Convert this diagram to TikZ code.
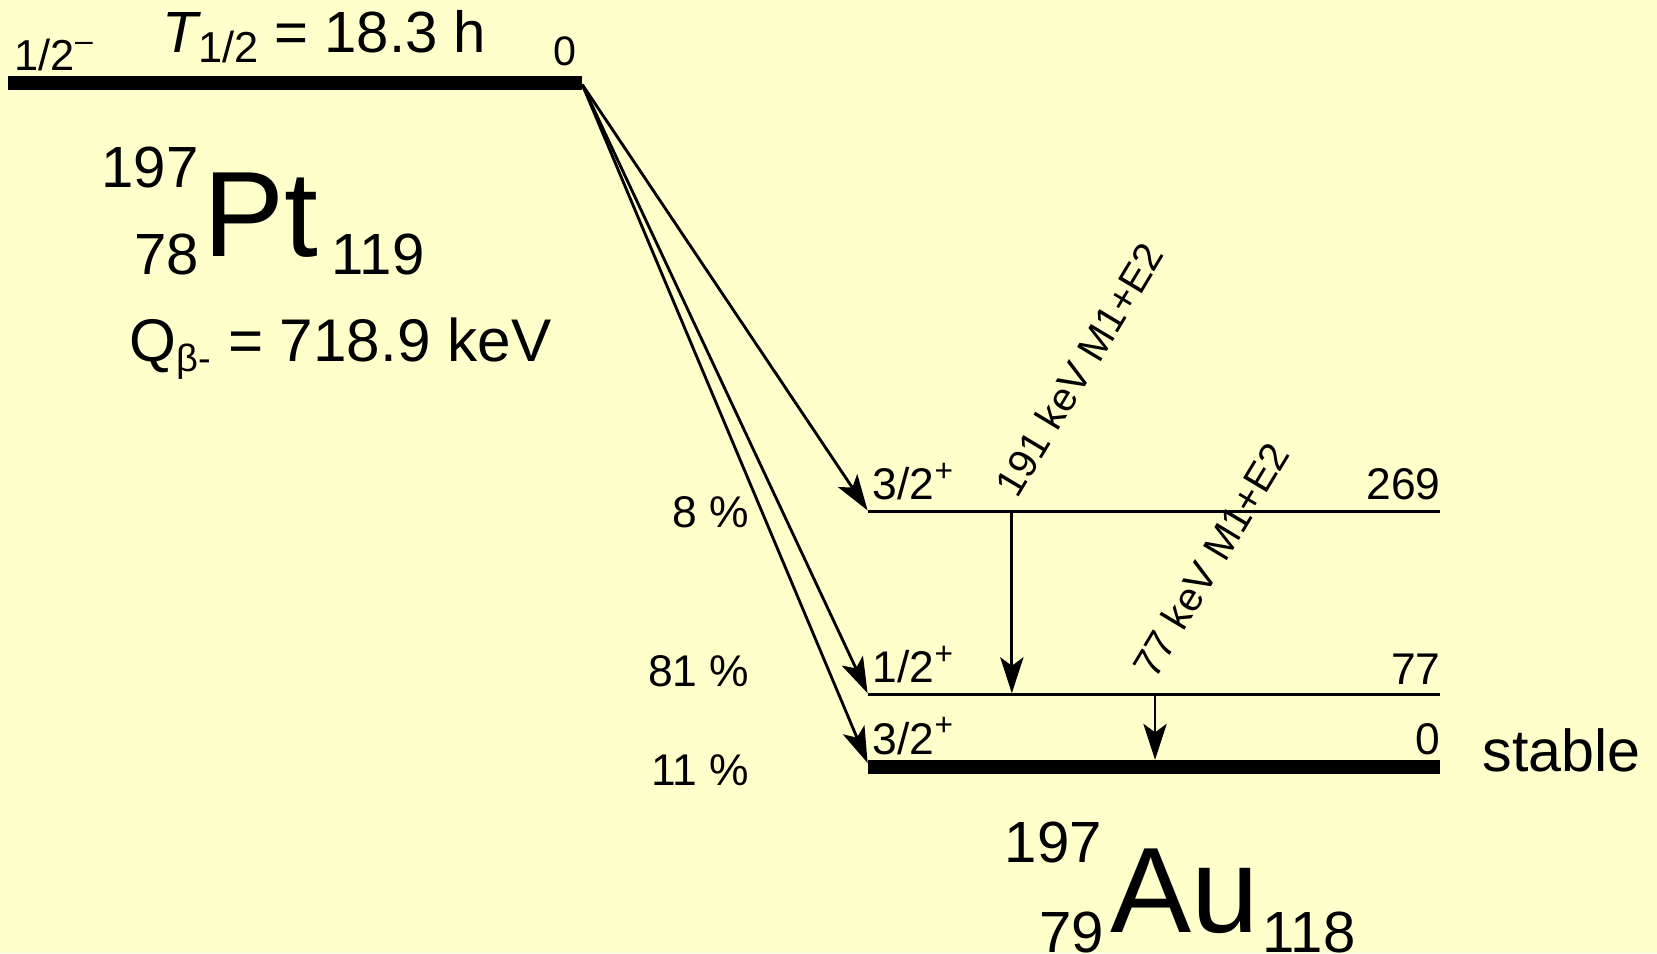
\documentclass[tikz,border=0pt]{standalone}
\usepackage{fontspec}
\setmainfont{Liberation Sans}
\usetikzlibrary{arrows.meta}
\definecolor{bg}{HTML}{FFFFCC}
\newcommand\setfs[1]{\fontsize{#1pt}{#1pt}\selectfont}
\newcommand\supp[1]{\raisebox{0.42em}{\setfs{30}#1}}
\begin{document}
\begin{tikzpicture}[x=1pt,y=-1pt,
  txt/.style={inner sep=0pt, outer sep=0pt},
  lab/.style={txt, font=\setfs{42}},
  big/.style={txt, font=\setfs{55}},
  huge/.style={txt, font=\setfs{115}},
  lvl/.style={line width=2.7pt},
  gs/.style={line width=13.5pt},
  arr/.style={line width=2.7pt, -{Stealth[length=34pt,width=22pt,inset=8pt]}},
]
\fill[bg] (0,0) rectangle (1568,902);
\useasboundingbox (0,0) rectangle (1568,902);

% parent level
\coordinate (pL) at (8,78.5);
\coordinate (pR) at (551,78.5);
\draw[gs] (pL) -- (pR);
\coordinate (bo) at (551,80);
\node[txt, anchor=base west, font=\setfs{41}] (pj) at (14,67) {1/2\raisebox{0.45em}{\setfs{30}–}};
\node[big, anchor=base west] (thalf) at (154,50) {{\itshape T}\raisebox{-9.5pt}{\setfs{41}1/2} = 18.3 h};
\node[txt, anchor=base east, font=\setfs{39}] (pe) at (545,62) {0};

% Pt label
\node[big, anchor=base west] (ptA) at (96,177) {197};
\node[huge, anchor=base west] (ptS) at (192.5,243) {Pt};
\node[big, anchor=base east] (ptZ) at (188,260) {78};
\node[big, anchor=base west] (ptN) at (314,260) {119};
\node[txt, anchor=base west, font=\setfs{57}] (qv) at (123,342) {Q\raisebox{-10pt}{\setfs{36}β-} = 718.9 keV};

% daughter levels
\coordinate (a269L) at (821,484);
\coordinate (a269R) at (1363,484);
\coordinate (a77L) at (821,657);
\coordinate (a77R) at (1363,657);
\coordinate (a0L) at (821,726);
\coordinate (a0R) at (1363,726);
\draw[lvl] (a269L) -- (a269R);
\draw[lvl] (a77L) -- (a77R);
\draw[gs] (a0L) -- (a0R);

% beta arrows
\coordinate (t269) at (821,483);
\coordinate (t77) at (821,656);
\coordinate (t0) at (821,722);
\draw[arr] (bo) -- (t269);
\draw[arr] (bo) -- (t77);
\draw[arr] (bo) -- (t0);

% gamma arrows
\coordinate (g1s) at (957.5,484);
\coordinate (g1e) at (957.5,656);
\coordinate (g2s) at (1093,657);
\coordinate (g2e) at (1093,719);
\draw[arr] (g1s) -- (g1e);
\draw[arr] (g2s) -- (g2e);
\node[txt, anchor=base west, rotate=59, font=\setfs{38}] (g1l) at (963,473) {191 keV M1+E2};
\node[txt, anchor=base west, rotate=59, font=\setfs{38}] (g2l) at (1093,644) {77 keV M1+E2};

% level labels
\node[lab, anchor=base west] (s269) at (826,473) {3/2\supp{+}};
\node[lab, anchor=base west] (s77) at (826,646) {1/2\supp{+}};
\node[lab, anchor=base west] (s0) at (826,714) {3/2\supp{+}};
\node[lab, anchor=base east] (e269) at (1363,473) {269};
\node[lab, anchor=base east] (e77) at (1363,648) {77};
\node[lab, anchor=base east] (e0) at (1363,714) {0};
\node[txt, anchor=base west, font=\setfs{56}] (stab) at (1403,730) {stable};

% branching
\node[lab, anchor=base east] (b269) at (709,499) {8 \%};
\node[lab, anchor=base east] (b77) at (709,650) {81 \%};
\node[lab, anchor=base east] (b0) at (709,743) {11 \%};

% Au label
\node[big, anchor=base west] (auA) at (951,816) {197};
\node[huge, anchor=base west] (auS) at (1051,882) {Au};
\node[big, anchor=base east] (auZ) at (1045,901) {79};
\node[big, anchor=base west] (auN) at (1195,901) {118};
\end{tikzpicture}
\end{document}
